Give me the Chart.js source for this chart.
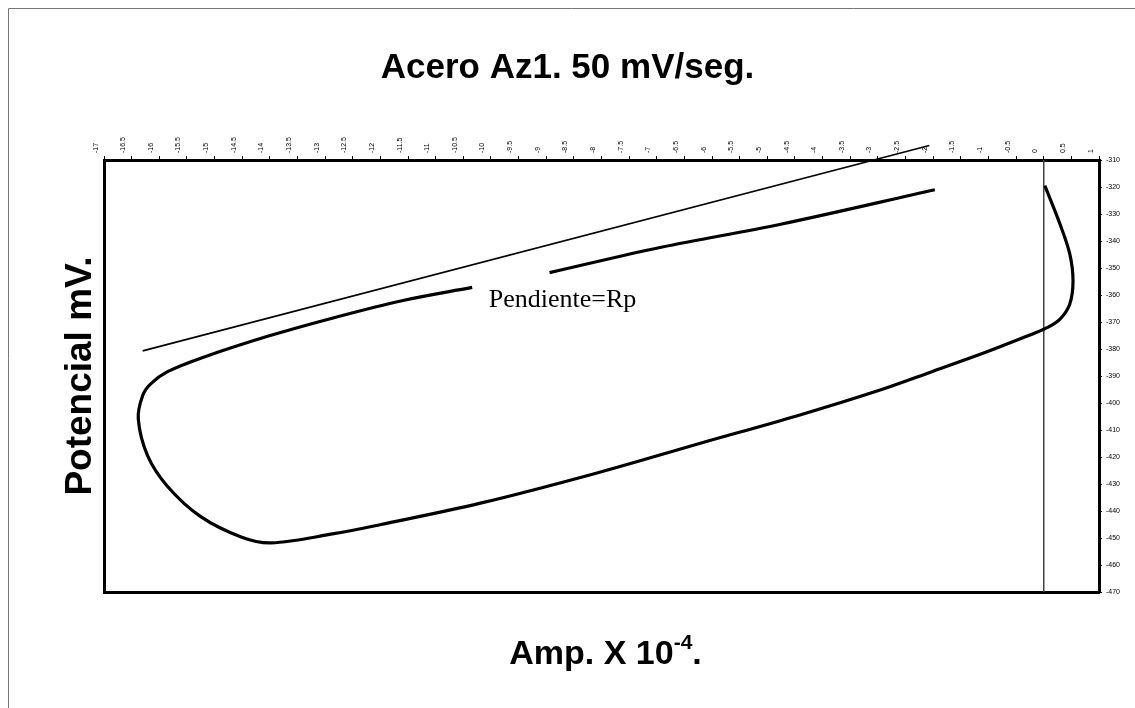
<!DOCTYPE html>
<html lang="es">
<head>
    <meta charset="UTF-8">
    <title>Acero Az1. 50 mV/seg.</title>
    <script src="https://cdn.jsdelivr.net/npm/chart.js@4.4.1/dist/chart.umd.min.js"></script>
    <style>
        body { margin: 0; background: #ffffff; }
        .chart-box { width: 1135px; height: 708px; position: relative; }
    </style>
</head>
<body>
    <div class="chart-box">
        <canvas id="polChart"></canvas>
    </div>

    <script>
        // curva de polarizacion (Amp x 10^-4, mV), null = tramo cortado
        const ampX = [0.02, 0.29, 0.47, 0.53, 0.47, 0.29, 0.05, -0.31, -1.10, -2.00, -2.96,
            -4.47, -6.21, -8.08, -10.19, -11.99, -12.84, -13.98, -14.52, -15.25, -15.85,
            -16.21, -16.38, -16.30, -16.15, -15.85, -15.25, -14.04, -12.84, -11.63, -10.34,
            null, -8.94, -6.92, -4.74, -1.97];
        const potY = [-319.5, -333.5, -344.7, -354.7, -363.4, -369.0, -372.2, -375.3, -381.6, -388.2, -395.2,
            -404.8, -414.9, -425.9, -437.1, -445.0, -448.4, -451.8, -449.6, -442.1, -430.9,
            -419.6, -405.9, -397.2, -392.8, -388.4, -383.4, -375.3, -368.4, -362.2, -357.2,
            null, -351.7, -342.3, -333.7, -321.0];

        // recta de la pendiente
        const slopeX = [-16.30, -2.07];
        const slopeY = [-380.7, -304.6];

        // linea de corriente cero
        const zeroX = [0, 0];
        const zeroY = [-310, -470];

        // ejes
        const ampMin = -17, ampMax = 1, ampStep = 0.5;
        const potMin = -470, potMax = -310, potStep = 10;

        const rpLabel = { text: 'Pendiente=Rp', x: -10.04, y: -364.6 };

        function toPoints(xs, ys) {
            return xs.map((x, i) => ({ x: x, y: ys[i] }));
        }

        const sansFamily = '"Liberation Sans", Arial, sans-serif';

        // marco exterior, rotulo de la pendiente y titulo del eje X con exponente
        const extras = {
            id: 'extras',
            beforeDraw(chart) {
                const ctx = chart.ctx;
                ctx.save();
                ctx.strokeStyle = '#777';
                ctx.lineWidth = 1;
                ctx.beginPath();
                ctx.moveTo(8.5, 708);
                ctx.lineTo(8.5, 8.5);
                ctx.lineTo(1135, 8.5);
                ctx.stroke();
                ctx.restore();
            },
            afterDatasetsDraw(chart) {
                const ctx = chart.ctx;
                const px = chart.scales.x.getPixelForValue(rpLabel.x);
                const py = chart.scales.y.getPixelForValue(rpLabel.y);
                ctx.save();
                ctx.fillStyle = '#000';
                ctx.font = '26px "Liberation Serif", "Times New Roman", serif';
                ctx.textBaseline = 'alphabetic';
                ctx.fillText(rpLabel.text, px, py);

                // Amp. X 10^-4.
                const area = chart.chartArea;
                const cx = (area.left + area.right) / 2 + 4;
                const base = area.bottom + 72;
                const big = 'bold 34px ' + sansFamily;
                const small = 'bold 21px ' + sansFamily;
                const parts = [['Amp. X 10', big, 0], ['-4', small, -15], ['.', big, 0]];
                let total = 0;
                parts.forEach(p => { ctx.font = p[1]; total += ctx.measureText(p[0]).width; });
                let xPos = cx - total / 2;
                parts.forEach(p => {
                    ctx.font = p[1];
                    ctx.fillText(p[0], xPos, base + p[2]);
                    xPos += ctx.measureText(p[0]).width;
                });
                ctx.restore();
            }
        };

        const tickFont = { family: sansFamily, size: 7 };

        const ctx = document.getElementById('polChart').getContext('2d');
        new Chart(ctx, {
            type: 'scatter',
            data: {
                datasets: [
                    {
                        data: toPoints(ampX, potY),
                        showLine: true,
                        borderColor: '#000',
                        borderWidth: 3.2,
                        pointRadius: 0,
                        tension: 0.35,
                        spanGaps: false
                    },
                    {
                        data: toPoints(slopeX, slopeY),
                        showLine: true,
                        borderColor: '#000',
                        borderWidth: 1.6,
                        pointRadius: 0,
                        clip: false
                    },
                    {
                        data: toPoints(zeroX, zeroY),
                        showLine: true,
                        borderColor: '#444',
                        borderWidth: 1,
                        pointRadius: 0
                    }
                ]
            },
            options: {
                responsive: true,
                maintainAspectRatio: false,
                animation: false,
                layout: { padding: 0 },
                plugins: {
                    legend: { display: false },
                    tooltip: { enabled: false },
                    title: {
                        display: true,
                        text: 'Acero Az1. 50 mV/seg.',
                        color: '#000',
                        font: { family: sansFamily, size: 35, weight: 'bold' },
                        padding: { top: 47, bottom: 0 }
                    }
                },
                scales: {
                    x: {
                        type: 'linear',
                        position: 'top',
                        min: ampMin,
                        max: ampMax,
                        afterFit(s) { s.height = 71; },
                        ticks: {
                            stepSize: ampStep,
                            autoSkip: false,
                            minRotation: 90,
                            maxRotation: 90,
                            color: '#000',
                            font: tickFont,
                            padding: 3,
                            callback: v => String(Math.round(v * 10) / 10)
                        },
                        grid: { drawOnChartArea: false, tickLength: 4, color: '#000' },
                        border: { display: true, color: '#000', width: 3 }
                    },
                    x2: {
                        type: 'linear',
                        position: 'bottom',
                        min: ampMin,
                        max: ampMax,
                        afterFit(s) { s.height = 116; },
                        ticks: { display: false },
                        grid: { display: false },
                        border: { display: true, color: '#000', width: 3 }
                    },
                    y: {
                        type: 'linear',
                        position: 'right',
                        min: potMin,
                        max: potMax,
                        afterFit(s) { s.width = 36; },
                        ticks: {
                            stepSize: potStep,
                            color: '#000',
                            font: tickFont,
                            padding: 4
                        },
                        grid: { drawOnChartArea: false, tickLength: 3, color: '#000' },
                        border: { display: true, color: '#000', width: 3 }
                    },
                    y2: {
                        type: 'linear',
                        position: 'left',
                        min: potMin,
                        max: potMax,
                        afterFit(s) { s.width = 104; },
                        ticks: { display: false },
                        grid: { display: false },
                        border: { display: true, color: '#000', width: 3 },
                        title: {
                            display: true,
                            text: 'Potencial mV.',
                            color: '#000',
                            font: { family: sansFamily, size: 37, weight: 'bold' },
                            padding: { top: 59, bottom: 0 }
                        }
                    }
                }
            },
            plugins: [extras]
        });
    </script>
</body>
</html>
